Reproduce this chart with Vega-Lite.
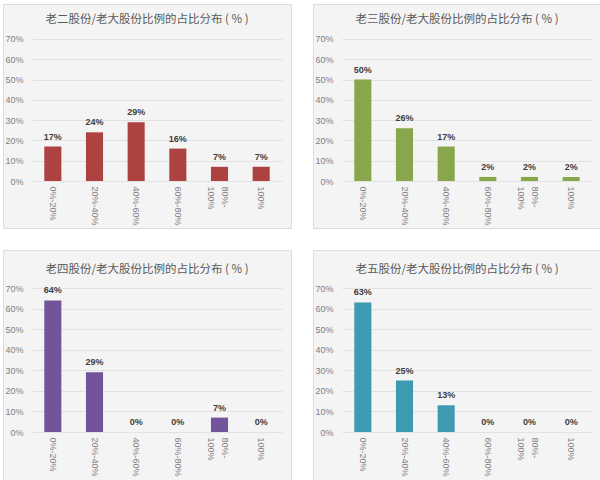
{
  "$schema": "https://vega.github.io/schema/vega-lite/v6.json",
  "background": "#ffffff",
  "padding": {"left": 2, "top": 3, "right": 0, "bottom": 0},
  "config": {
    "view": {"fill": "#f4f4f4", "stroke": "#dcdcdc", "strokeWidth": 1},
    "font": "Liberation Sans, Noto Sans CJK SC",
    "title": {"font": "Noto Sans CJK SC", "fontSize": 11.5, "fontWeight": "normal", "color": "#595959", "anchor": "middle", "frame": "group", "baseline": "middle"},
    "concat": {"spacing": 20}
  },
  "datasets": {
    "p2": [
      {"cat": "0%-20%", "v": 0.17},
      {"cat": "20%-40%", "v": 0.24},
      {"cat": "40%-60%", "v": 0.29},
      {"cat": "60%-80%", "v": 0.16},
      {"cat": "80%-100%", "v": 0.07},
      {"cat": "100%", "v": 0.07}
    ],
    "p3": [
      {"cat": "0%-20%", "v": 0.50},
      {"cat": "20%-40%", "v": 0.26},
      {"cat": "40%-60%", "v": 0.17},
      {"cat": "60%-80%", "v": 0.02},
      {"cat": "80%-100%", "v": 0.02},
      {"cat": "100%", "v": 0.02}
    ],
    "p4": [
      {"cat": "0%-20%", "v": 0.64},
      {"cat": "20%-40%", "v": 0.29},
      {"cat": "40%-60%", "v": 0.0},
      {"cat": "60%-80%", "v": 0.0},
      {"cat": "80%-100%", "v": 0.07},
      {"cat": "100%", "v": 0.0}
    ],
    "p5": [
      {"cat": "0%-20%", "v": 0.63},
      {"cat": "20%-40%", "v": 0.25},
      {"cat": "40%-60%", "v": 0.13},
      {"cat": "60%-80%", "v": 0.0},
      {"cat": "80%-100%", "v": 0.0},
      {"cat": "100%", "v": 0.0}
    ]
  },
  "vconcat": [
    {
      "spacing": 20,
      "hconcat": [
        {
          "width": 288, "height": 224,
          "title": {"text": "老二股份/老大股份比例的占比分布 ( % )", "offset": -21},
          "data": {"name": "p2"},
          "encoding": {
            "x": {"field": "cat", "type": "nominal", "sort": null, "scale": {"range": [29, 279], "paddingInner": 0.59, "paddingOuter": 0.295},
              "axis": {"orient": "bottom", "offset": -47, "labelAngle": 90, "labelPadding": 5, "ticks": false, "domain": false, "title": null, "labelColor": "#7f7f7f", "labelFontSize": 9, "labelOverlap": false, "labelLineHeight": 14, "labelOffset": {"condition": {"test": "datum.label == '80%-100%'", "value": 5}, "value": 0}, "labelExpr": "datum.label == '80%-100%' ? ['80%-', '100%'] : datum.label"}},
            "y": {"field": "v", "type": "quantitative", "scale": {"domain": [-0.2316, 0.8725], "nice": false, "zero": false},
              "axis": {"orient": "left", "offset": -29, "values": [0, 0.1, 0.2, 0.3, 0.4, 0.5, 0.6, 0.7], "format": ".0%", "grid": false, "domain": false, "tickSize": -250, "tickColor": "#e2e2e2", "labelPadding": 259, "labelColor": "#7f7f7f", "labelFontSize": 9, "title": null}}
          },
          "layer": [
            {"mark": {"type": "bar", "color": "#AD4341"}, "encoding": {"y2": {"datum": 0}}},
            {"mark": {"type": "text", "fontWeight": "bold", "fontSize": 9, "color": "#404040", "baseline": "bottom", "dy": -5}, "encoding": {"text": {"field": "v", "type": "quantitative", "format": ".0%"}}}
          ]
        },
        {
          "width": 288, "height": 224,
          "title": {"text": "老三股份/老大股份比例的占比分布 ( % )", "offset": -21},
          "data": {"name": "p3"},
          "encoding": {
            "x": {"field": "cat", "type": "nominal", "sort": null, "scale": {"range": [29, 279], "paddingInner": 0.59, "paddingOuter": 0.295},
              "axis": {"orient": "bottom", "offset": -47, "labelAngle": 90, "labelPadding": 5, "ticks": false, "domain": false, "title": null, "labelColor": "#7f7f7f", "labelFontSize": 9, "labelOverlap": false, "labelLineHeight": 14, "labelOffset": {"condition": {"test": "datum.label == '80%-100%'", "value": 5}, "value": 0}, "labelExpr": "datum.label == '80%-100%' ? ['80%-', '100%'] : datum.label"}},
            "y": {"field": "v", "type": "quantitative", "scale": {"domain": [-0.2316, 0.8725], "nice": false, "zero": false},
              "axis": {"orient": "left", "offset": -29, "values": [0, 0.1, 0.2, 0.3, 0.4, 0.5, 0.6, 0.7], "format": ".0%", "grid": false, "domain": false, "tickSize": -250, "tickColor": "#e2e2e2", "labelPadding": 259, "labelColor": "#7f7f7f", "labelFontSize": 9, "title": null}}
          },
          "layer": [
            {"mark": {"type": "bar", "color": "#88A64C"}, "encoding": {"y2": {"datum": 0}}},
            {"mark": {"type": "text", "fontWeight": "bold", "fontSize": 9, "color": "#404040", "baseline": "bottom", "dy": -5}, "encoding": {"text": {"field": "v", "type": "quantitative", "format": ".0%"}}}
          ]
        }
      ]
    },
    {
      "spacing": 20,
      "hconcat": [
        {
          "width": 288, "height": 230,
          "title": {"text": "老四股份/老大股份比例的占比分布 ( % )", "offset": -25},
          "data": {"name": "p4"},
          "encoding": {
            "x": {"field": "cat", "type": "nominal", "sort": null, "scale": {"range": [29, 279], "paddingInner": 0.59, "paddingOuter": 0.295},
              "axis": {"orient": "bottom", "offset": -48, "labelAngle": 90, "labelPadding": 5, "ticks": false, "domain": false, "title": null, "labelColor": "#7f7f7f", "labelFontSize": 9, "labelOverlap": false, "labelLineHeight": 14, "labelOffset": {"condition": {"test": "datum.label == '80%-100%'", "value": 5}, "value": 0}, "labelExpr": "datum.label == '80%-100%' ? ['80%-', '100%'] : datum.label"}},
            "y": {"field": "v", "type": "quantitative", "scale": {"domain": [-0.2333, 0.885], "nice": false, "zero": false},
              "axis": {"orient": "left", "offset": -29, "values": [0, 0.1, 0.2, 0.3, 0.4, 0.5, 0.6, 0.7], "format": ".0%", "grid": false, "domain": false, "tickSize": -250, "tickColor": "#e2e2e2", "labelPadding": 259, "labelColor": "#7f7f7f", "labelFontSize": 9, "title": null}}
          },
          "layer": [
            {"mark": {"type": "bar", "color": "#71549A"}, "encoding": {"y2": {"datum": 0}}},
            {"mark": {"type": "text", "fontWeight": "bold", "fontSize": 9, "color": "#404040", "baseline": "bottom", "dy": -5}, "encoding": {"text": {"field": "v", "type": "quantitative", "format": ".0%"}}}
          ]
        },
        {
          "width": 288, "height": 230,
          "title": {"text": "老五股份/老大股份比例的占比分布 ( % )", "offset": -25},
          "data": {"name": "p5"},
          "encoding": {
            "x": {"field": "cat", "type": "nominal", "sort": null, "scale": {"range": [29, 279], "paddingInner": 0.59, "paddingOuter": 0.295},
              "axis": {"orient": "bottom", "offset": -48, "labelAngle": 90, "labelPadding": 5, "ticks": false, "domain": false, "title": null, "labelColor": "#7f7f7f", "labelFontSize": 9, "labelOverlap": false, "labelLineHeight": 14, "labelOffset": {"condition": {"test": "datum.label == '80%-100%'", "value": 5}, "value": 0}, "labelExpr": "datum.label == '80%-100%' ? ['80%-', '100%'] : datum.label"}},
            "y": {"field": "v", "type": "quantitative", "scale": {"domain": [-0.2333, 0.885], "nice": false, "zero": false},
              "axis": {"orient": "left", "offset": -29, "values": [0, 0.1, 0.2, 0.3, 0.4, 0.5, 0.6, 0.7], "format": ".0%", "grid": false, "domain": false, "tickSize": -250, "tickColor": "#e2e2e2", "labelPadding": 259, "labelColor": "#7f7f7f", "labelFontSize": 9, "title": null}}
          },
          "layer": [
            {"mark": {"type": "bar", "color": "#3D9AB0"}, "encoding": {"y2": {"datum": 0}}},
            {"mark": {"type": "text", "fontWeight": "bold", "fontSize": 9, "color": "#404040", "baseline": "bottom", "dy": -5}, "encoding": {"text": {"field": "v", "type": "quantitative", "format": ".0%"}}}
          ]
        }
      ]
    }
  ]
}
